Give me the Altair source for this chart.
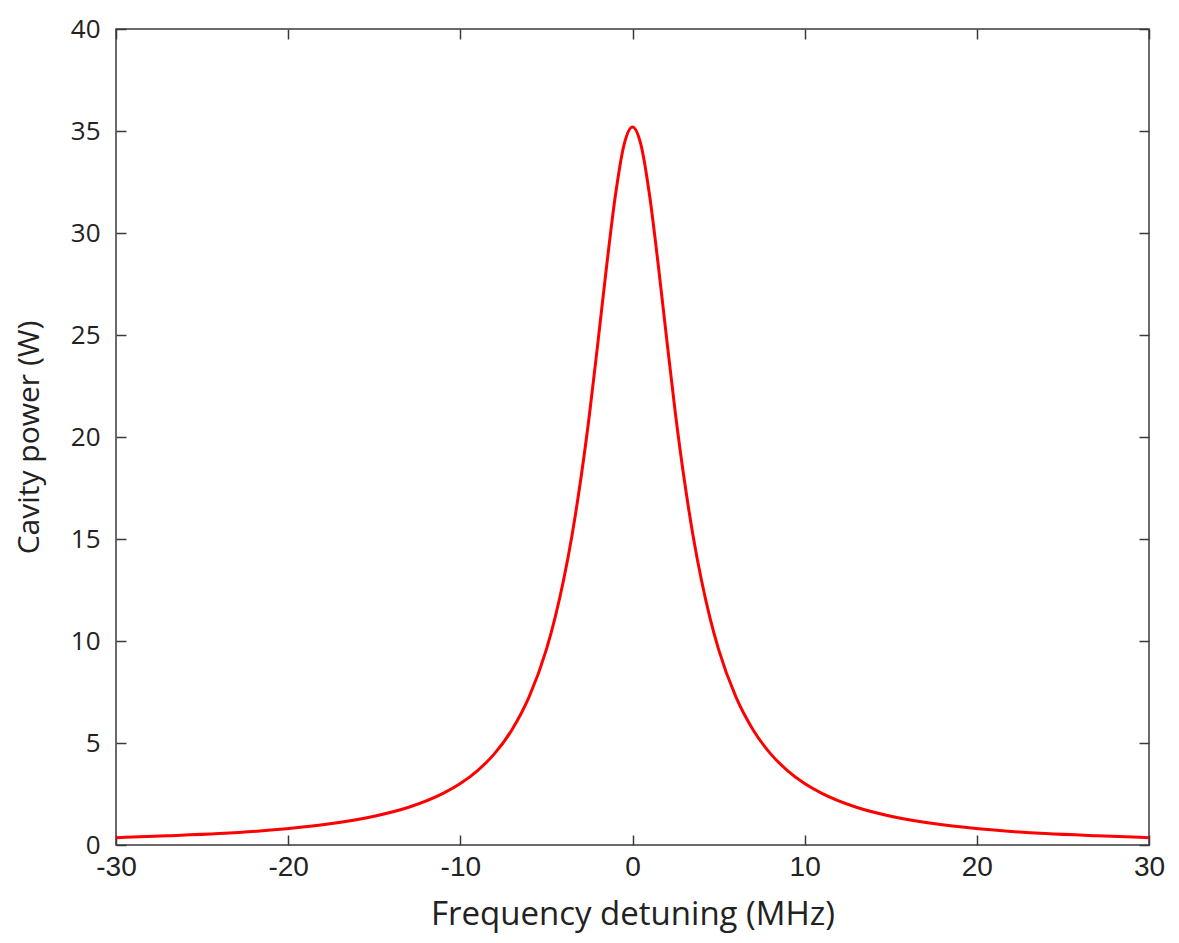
import altair as alt
import pandas as pd

# Values
detuning_mhz = [-30, -27, -24, -21, -18, -15, -13, -11, -10, -9, -8, -7, -6, -5,
                -4.5, -4, -3.5, -3, -2.5, -2, -1.5, -1, -0.5, 0,
                0.5, 1, 1.5, 2, 2.5, 3, 3.5, 4, 4.5, 5, 6, 7, 8, 9, 10, 11,
                13, 15, 18, 21, 24, 27, 30]
cavity_power_w = [0.36, 0.45, 0.56, 0.73, 0.99, 1.41, 1.85, 2.53, 3.01, 3.65, 4.49, 5.65, 7.27, 9.59,
                  11.13, 13.0, 15.25, 17.95, 21.1, 24.7, 28.4, 31.8, 34.3, 35.2,
                  34.3, 31.8, 28.4, 24.7, 21.1, 17.95, 15.25, 13.0, 11.13, 9.59, 7.27, 5.65, 4.49, 3.65, 3.01, 2.53,
                  1.85, 1.41, 0.99, 0.73, 0.56, 0.45, 0.36]
x_ticks = [-30, -20, -10, 0, 10, 20, 30]
y_ticks = [0, 5, 10, 15, 20, 25, 30, 35, 40]

df = pd.DataFrame({"x": detuning_mhz, "y": cavity_power_w})

W, H = 1033, 816
AX = "#3a3a3a"
TXT = "#222222"

x_scale = alt.Scale(domain=[-30, 30], nice=False, zero=False)
y_scale = alt.Scale(domain=[0, 40], nice=False)

common_axis = dict(grid=False, domain=False, tickSize=10, tickColor=AX, tickWidth=1.5,
                   offset=-10, labelFlush=False)

main = alt.Chart(df).mark_line(color="#ff0000", strokeWidth=3, interpolate="monotone").encode(
    x=alt.X("x:Q", scale=x_scale,
            axis=alt.Axis(orient="bottom", values=x_ticks, title="Frequency detuning (MHz)",
                          labelExpr="'' + datum.value",
                          labelFont="Liberation Sans", labelFontSize=28, labelColor=TXT,
                          labelPadding=8, titleFont="Open Sans", titleFontSize=33,
                          titleFontWeight="normal", titleColor=TXT, titlePadding=17,
                          **common_axis)),
    y=alt.Y("y:Q", scale=y_scale,
            axis=alt.Axis(orient="left", values=y_ticks, title="Cavity power (W)",
                          labelFont="Open Sans", labelFontSize=26, labelColor=TXT,
                          labelPadding=16, titleFont="Open Sans", titleFontSize=30,
                          titleFontWeight="normal", titleColor=TXT, titlePadding=26,
                          **common_axis)),
)

mirror = alt.Chart(df).mark_line(strokeOpacity=0).encode(
    x=alt.X("x:Q", scale=x_scale,
            axis=alt.Axis(orient="top", values=x_ticks, labels=False, title=None, **common_axis)),
    y=alt.Y("y:Q", scale=y_scale,
            axis=alt.Axis(orient="right", values=y_ticks, labels=False, title=None, **common_axis)),
)

chart = alt.layer(mirror, main).properties(
    width=W, height=H,
    background="white",
    autosize=alt.AutoSizeParams(type="none"),
    padding={"left": 108, "top": 21, "right": 22, "bottom": 100},
).configure_view(stroke=AX, strokeWidth=1.5)

chart.save("out.html", embed_options={"renderer": "svg", "actions": False})
